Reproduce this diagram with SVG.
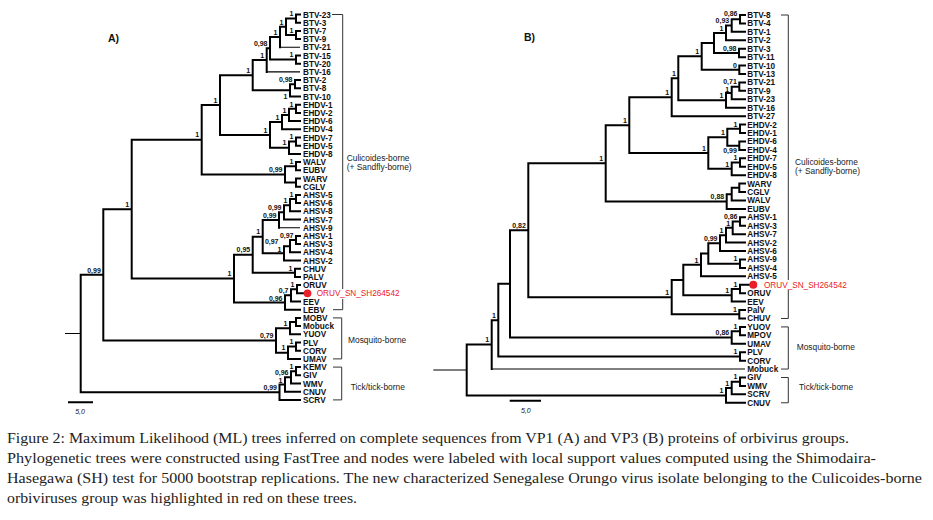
<svg xmlns="http://www.w3.org/2000/svg" width="933" height="520" viewBox="0 0 933 520">
<style>
.br{fill:none;stroke:#000;stroke-width:2;stroke-linecap:square}
.thin{fill:none;stroke:#000;stroke-width:1.1}
.bk{fill:none;stroke:#333;stroke-width:1}
.lf{font-family:"Liberation Sans",Arial,sans-serif;font-weight:bold;font-size:8.2px;fill:#111}
.sp{font-family:"Liberation Sans",Arial,sans-serif;font-weight:bold;font-size:7px;fill:#111;text-anchor:end}
.grp{font-family:"Liberation Sans",Arial,sans-serif;font-size:8.4px;fill:#222}
.red{font-family:"Liberation Sans",Arial,sans-serif;font-size:8.2px;fill:#e8202a}
.ttl{font-family:"Liberation Sans",Arial,sans-serif;font-weight:bold;font-size:10.5px;fill:#111}
.sc{font-family:"Liberation Sans",Arial,sans-serif;font-style:italic;font-size:7px;fill:#111;text-anchor:middle}
.cap{font-family:"Liberation Serif","Times New Roman",serif;font-size:14.5px;fill:#222}
</style>
<rect width="933" height="520" fill="#fff"/>

<g id="connectors">
<path class="br" d="M296,14.5V22.7M296,14.5H300M296,22.7H300 M296,30.9V39.1M296,30.9H300M296,39.1H300 M286,18.6V35M286,18.6H296M286,35H296 M280,26.8V47.3M280,26.8H286 M296,55.5V63.7M296,55.5H300M296,63.7H300 M270,37.05V59.6M270,37.05H280M270,59.6H296 M266.7,48.3V71.9M266.7,48.3H270 M295,80.1V88.3M295,80.1H300M295,88.3H300 M290,84.2V96.5M290,84.2H295M290,96.5H300 M252.7,60.1V90.35M252.7,60.1H266.7M252.7,90.35H290
M296,104.7V112.9M296,104.7H300M296,112.9H300 M289,108.8V121.1M289,108.8H296M289,121.1H300 M282,114.95V129.3M282,114.95H289M282,129.3H300 M296,137.5V145.7M296,137.5H300M296,145.7H300 M289,141.6V153.9M289,141.6H296M289,153.9H300 M270,122.1V147.75M270,122.1H282M270,147.75H289 M220,75.2V134.9M220,75.2H252.7M220,134.9H270
M296,162.1V170.3M296,162.1H300M296,170.3H300 M296,178.5V186.7M296,178.5H300M296,186.7H300 M285,166.2V182.6M285,166.2H296M285,182.6H296 M201.7,105.05V174.4M201.7,105.05H220M201.7,174.4H285
M296,194.9V203.1M296,194.9H300M296,203.1H300 M290,199V211.3M290,199H296M290,211.3H300 M284,205.15V219.5M284,205.15H290M284,219.5H300 M279,212.3V227.7M279,212.3H284 M296,235.9V244.1M296,235.9H300M296,244.1H300 M290,240V252.3M290,240H296M290,252.3H300 M284,246.15V260.5M284,246.15H290M284,260.5H300 M262.7,220V253.3M262.7,220H279M262.7,253.3H284 M295,268.7V276.9M295,268.7H300M295,276.9H300 M252.7,236.65V272.8M252.7,236.65H262.7M252.7,272.8H295
M297,285.1V293.3M297,285.1H300M297,293.3H303 M291,289.2V301.5M291,289.2H297M291,301.5H300 M285,295.35V309.7M285,295.35H291M285,309.7H300 M234,254.7V302.5M234,254.7H252.7M234,302.5H285 M131.7,139.7V278.6M131.7,139.7H201.7M131.7,278.6H234
M296,317.9V326.1M296,317.9H300M296,326.1H300 M290,322V334.3M290,322H296M290,334.3H300 M296,342.5V350.7M296,342.5H300M296,350.7H300 M288,346.6V358.9M288,346.6H296M288,358.9H300 M276,328.15V352.75M276,328.15H290M276,352.75H288 M103.3,209.15V340.45M103.3,209.15H131.7M103.3,340.45H276
M296,367.1V375.3M296,367.1H300M296,375.3H300 M291,371.2V383.5M291,371.2H296M291,383.5H300 M285,377.35V391.7M285,377.35H291M285,391.7H300 M279.5,384.5V399.9M279.5,384.5H285M279.5,399.9H300 M80.7,274.8V392.2M80.7,274.8H103.3M80.7,392.2H279.5 M69,402.3H92"/>
<path class="thin" d="M65,333.5H80.7 M280,47.3H300 M266.7,71.9H300 M279,227.7H300"/>

<path class="br" d="M740,15V23.43M740,15H745M740,23.43H745 M731.7,19.2V31.86M731.7,19.2H740M731.7,31.86H745 M726,25.53V40.29M726,25.53H731.7M726,40.29H745 M739,48.72V57.15M739,48.72H745M739,57.15H745 M714,32.91V52.94M714,32.91H726M714,52.94H739 M739.3,65.58V74.01M739.3,65.58H745M739.3,74.01H745 M701.7,42.93V69.8M701.7,42.93H714M701.7,69.8H739.3
M739.3,82.44V90.87M739.3,82.44H745M739.3,90.87H745 M731.7,86.66V99.3M731.7,86.66H739.3M731.7,99.3H745 M726,92.98V107.73M726,92.98H731.7M726,107.73H745 M678.3,56.36V100.36M678.3,56.36H701.7M678.3,100.36H726 M671.7,78.36V116.16M671.7,78.36H678.3M671.7,116.16H745
M740,124.59V133.02M740,124.59H745M740,133.02H745 M739.3,141.45V149.88M739.3,141.45H745M739.3,149.88H745 M727.3,128.8V145.67M727.3,128.8H740M727.3,145.67H739.3 M740,158.31V166.74M740,158.31H745M740,166.74H745 M731.7,162.53V175.17M731.7,162.53H740M731.7,175.17H745 M708.3,137.24V168.85M708.3,137.24H727.3M708.3,168.85H731.7 M629.3,97.26V153.04M629.3,97.26H671.7M629.3,153.04H708.3
M739.3,183.6V192.03M739.3,183.6H745M739.3,192.03H745 M731.7,187.8V200.46M731.7,187.8H739.3M731.7,200.46H745 M726.7,194.13V208.89M726.7,194.13H731.7M726.7,208.89H745 M605.7,125.15V201.51M605.7,125.15H629.3M605.7,201.51H726.7
M740,217.32V225.75M740,217.32H745M740,225.75H745 M732.7,221.54V234.18M732.7,221.54H740M732.7,234.18H745 M726,227.86V242.61M726,227.86H732.7M726,242.61H745 M720,235.24V251.04M720,235.24H726M720,251.04H745 M740,259.47V267.9M740,259.47H745M740,267.9H745 M708.3,243.14V263.69M708.3,243.14H720M708.3,263.69H740 M701,253.41V276.33M701,253.41H708.3M701,276.33H745
M740,284.76V293.19M740,284.76H749M740,293.19H745 M731.7,288.98V301.62M731.7,288.98H740M731.7,301.62H745 M683.3,264.87V295.3M683.3,264.87H701M683.3,295.3H731.7 M739.3,310.05V318.48M739.3,310.05H745M739.3,318.48H745 M671.7,280.09V314.27M671.7,280.09H683.3M671.7,314.27H739.3 M528.3,163.33V297.18M528.3,163.33H605.7M528.3,297.18H671.7
M740,326.91V335.34M740,326.91H745M740,335.34H745 M731.7,331.13V343.77M731.7,331.13H740M731.7,343.77H745 M510,230.26V337.45M510,230.26H528.3M510,337.45H731.7 M740,352.2V360.63M740,352.2H745M740,360.63H745 M498.3,283.86V356.42M498.3,283.86H510M498.3,356.42H740 M491.7,320.14V369.06M491.7,320.14H498.3
M740,377.49V385.92M740,377.49H745M740,385.92H745 M731.7,381.71V394.35M731.7,381.71H740M731.7,394.35H745 M726,388.03V402.78M726,388.03H731.7M726,402.78H745 M466.7,344.6V395.41M466.7,344.6H491.7M466.7,395.41H726 M510.7,400.7H540"/>
<path class="thin" d="M433.3,370H466.7 M491.7,369.06H745"/>

<path class="bk" d="M332,14.5H342.7V289 M342.7,299V309.7H333 M333,317.9H341.7V358.9H333 M333,367.1H341.7V399.9H333"/>
<path class="bk" d="M781,15H788.3V280 M788.3,290V318.48H781 M781,326.91H788.3V369.06H781 M781,377.49H788.3V402.78H781"/>
</g>

<g id="titles">
<text class="ttl" x="108" y="42">A)</text>
<text class="ttl" x="524" y="41">B)</text>
<text class="sc" x="80" y="414">5,0</text>
<text class="sc" x="525.8" y="413">5,0</text>
</g>

<g id="treeA-leaves">
<g id="a-BTV-23"><text class="lf" x="303" y="17.5">BTV-23</text></g>
<g id="a-BTV-3"><text class="lf" x="303" y="25.7">BTV-3</text></g>
<g id="a-BTV-7"><text class="lf" x="303" y="33.9">BTV-7</text></g>
<g id="a-BTV-9"><text class="lf" x="303" y="42.1">BTV-9</text></g>
<g id="a-BTV-21"><text class="lf" x="303" y="50.3">BTV-21</text></g>
<g id="a-BTV-15"><text class="lf" x="303" y="58.5">BTV-15</text></g>
<g id="a-BTV-20"><text class="lf" x="303" y="66.7">BTV-20</text></g>
<g id="a-BTV-16"><text class="lf" x="303" y="74.9">BTV-16</text></g>
<g id="a-BTV-2"><text class="lf" x="303" y="83.1">BTV-2</text></g>
<g id="a-BTV-8"><text class="lf" x="303" y="91.3">BTV-8</text></g>
<g id="a-BTV-10"><text class="lf" x="303" y="99.5">BTV-10</text></g>
<g id="a-EHDV-1"><text class="lf" x="303" y="107.7">EHDV-1</text></g>
<g id="a-EHDV-2"><text class="lf" x="303" y="115.9">EHDV-2</text></g>
<g id="a-EHDV-6"><text class="lf" x="303" y="124.1">EHDV-6</text></g>
<g id="a-EHDV-4"><text class="lf" x="303" y="132.3">EHDV-4</text></g>
<g id="a-EHDV-7"><text class="lf" x="303" y="140.5">EHDV-7</text></g>
<g id="a-EHDV-5"><text class="lf" x="303" y="148.7">EHDV-5</text></g>
<g id="a-EHDV-8"><text class="lf" x="303" y="156.9">EHDV-8</text></g>
<g id="a-WALV"><text class="lf" x="303" y="165.1">WALV</text></g>
<g id="a-EUBV"><text class="lf" x="303" y="173.3">EUBV</text></g>
<g id="a-WARV"><text class="lf" x="303" y="181.5">WARV</text></g>
<g id="a-CGLV"><text class="lf" x="303" y="189.7">CGLV</text></g>
<g id="a-AHSV-5"><text class="lf" x="303" y="197.9">AHSV-5</text></g>
<g id="a-AHSV-6"><text class="lf" x="303" y="206.1">AHSV-6</text></g>
<g id="a-AHSV-8"><text class="lf" x="303" y="214.3">AHSV-8</text></g>
<g id="a-AHSV-7"><text class="lf" x="303" y="222.5">AHSV-7</text></g>
<g id="a-AHSV-9"><text class="lf" x="303" y="230.7">AHSV-9</text></g>
<g id="a-AHSV-1"><text class="lf" x="303" y="238.9">AHSV-1</text></g>
<g id="a-AHSV-3"><text class="lf" x="303" y="247.1">AHSV-3</text></g>
<g id="a-AHSV-4"><text class="lf" x="303" y="255.3">AHSV-4</text></g>
<g id="a-AHSV-2"><text class="lf" x="303" y="263.5">AHSV-2</text></g>
<g id="a-CHUV"><text class="lf" x="303" y="271.7">CHUV</text></g>
<g id="a-PALV"><text class="lf" x="303" y="279.9">PALV</text></g>
<g id="a-ORUV"><text class="lf" x="303" y="288.1">ORUV</text></g>
<g id="a-ORUV_SN"><circle cx="307.5" cy="293.3" r="3.9" fill="#e8202a"/><text class="red" x="316.7" y="296.3">ORUV_SN_SH264542</text></g>
<g id="a-EEV"><text class="lf" x="303" y="304.5">EEV</text></g>
<g id="a-LEBV"><text class="lf" x="303" y="312.7">LEBV</text></g>
<g id="a-MOBV"><text class="lf" x="303" y="320.9">MOBV</text></g>
<g id="a-Mobuck"><text class="lf" x="303" y="329.1">Mobuck</text></g>
<g id="a-YUOV"><text class="lf" x="303" y="337.3">YUOV</text></g>
<g id="a-PLV"><text class="lf" x="303" y="345.5">PLV</text></g>
<g id="a-CORV"><text class="lf" x="303" y="353.7">CORV</text></g>
<g id="a-UMAV"><text class="lf" x="303" y="361.9">UMAV</text></g>
<g id="a-KEMV"><text class="lf" x="303" y="370.1">KEMV</text></g>
<g id="a-GIV"><text class="lf" x="303" y="378.3">GIV</text></g>
<g id="a-WMV"><text class="lf" x="303" y="386.5">WMV</text></g>
<g id="a-CNUV"><text class="lf" x="303" y="394.7">CNUV</text></g>
<g id="a-SCRV"><text class="lf" x="303" y="402.9">SCRV</text></g>
</g>

<g id="treeA-support">
<text class="sp" x="293.5" y="16.3">1</text>
<text class="sp" x="293.5" y="32.7">1</text>
<text class="sp" x="283.5" y="24.5">1</text>
<text class="sp" x="277.5" y="34.75">1</text>
<text class="sp" x="293.5" y="57.3">1</text>
<text class="sp" x="267.5" y="46">0,98</text>
<text class="sp" x="264.2" y="57.8">1</text>
<text class="sp" x="292.5" y="81.9">0,98</text>
<text class="sp" x="287.5" y="99.3">1</text>
<text class="sp" x="250.2" y="72.9">1</text>
<text class="sp" x="293.5" y="106.5">1</text>
<text class="sp" x="286.5" y="112.65">1</text>
<text class="sp" x="279.5" y="119.8">1</text>
<text class="sp" x="293.5" y="139.3">1</text>
<text class="sp" x="286.5" y="145.45">1</text>
<text class="sp" x="267.5" y="132.6">1</text>
<text class="sp" x="217.5" y="102.75">1</text>
<text class="sp" x="293.5" y="163.9">1</text>
<text class="sp" x="282.5" y="172.1">0,99</text>
<text class="sp" x="199.2" y="137.4">1</text>
<text class="sp" x="293.5" y="196.7">1</text>
<text class="sp" x="287.5" y="202.85">1</text>
<text class="sp" x="281.5" y="210">0,99</text>
<text class="sp" x="276.5" y="217.7">0,99</text>
<text class="sp" x="293.5" y="237.7">0,97</text>
<text class="sp" x="278.5" y="243.85">0,97</text>
<text class="sp" x="281.5" y="251.5">1</text>
<text class="sp" x="260.2" y="234.35">1</text>
<text class="sp" x="292.5" y="270.5">1</text>
<text class="sp" x="250.2" y="252.4">0,95</text>
<text class="sp" x="294.5" y="286.9">1</text>
<text class="sp" x="288.5" y="292.8">0,7</text>
<text class="sp" x="282.5" y="300.9">0,96</text>
<text class="sp" x="231.5" y="276.3">1</text>
<text class="sp" x="129.2" y="206.85">1</text>
<text class="sp" x="287.5" y="325.85">1</text>
<text class="sp" x="293.5" y="344.3">1</text>
<text class="sp" x="285.5" y="350.45">1</text>
<text class="sp" x="273.5" y="338.15">0,79</text>
<text class="sp" x="100.8" y="272.5">0,99</text>
<text class="sp" x="293.5" y="368.9">1</text>
<text class="sp" x="288.5" y="374.8">0,96</text>
<text class="sp" x="282.5" y="382.8">1</text>
<text class="sp" x="277" y="389.9">0,99</text>
</g>

<g id="treeA-groups">
<text class="grp" x="346.7" y="160.6">Culicoides-borne</text>
<text class="grp" x="346.7" y="169.8">(+ Sandfly-borne)</text>
<text class="grp" x="348" y="343">Mosquito-borne</text>
<text class="grp" x="350.7" y="389.7">Tick/tick-borne</text>
</g>

<g id="treeB-leaves">
<g id="b-BTV-8"><text class="lf" x="747.3" y="18">BTV-8</text></g>
<g id="b-BTV-4"><text class="lf" x="747.3" y="26.43">BTV-4</text></g>
<g id="b-BTV-1"><text class="lf" x="747.3" y="34.86">BTV-1</text></g>
<g id="b-BTV-2"><text class="lf" x="747.3" y="43.29">BTV-2</text></g>
<g id="b-BTV-3"><text class="lf" x="747.3" y="51.72">BTV-3</text></g>
<g id="b-BTV-11"><text class="lf" x="747.3" y="60.15">BTV-11</text></g>
<g id="b-BTV-10"><text class="lf" x="747.3" y="68.58">BTV-10</text></g>
<g id="b-BTV-13"><text class="lf" x="747.3" y="77.01">BTV-13</text></g>
<g id="b-BTV-21"><text class="lf" x="747.3" y="85.44">BTV-21</text></g>
<g id="b-BTV-9"><text class="lf" x="747.3" y="93.87">BTV-9</text></g>
<g id="b-BTV-23"><text class="lf" x="747.3" y="102.3">BTV-23</text></g>
<g id="b-BTV-16"><text class="lf" x="747.3" y="110.73">BTV-16</text></g>
<g id="b-BTV-27"><text class="lf" x="747.3" y="119.16">BTV-27</text></g>
<g id="b-EHDV-2"><text class="lf" x="747.3" y="127.59">EHDV-2</text></g>
<g id="b-EHDV-1"><text class="lf" x="747.3" y="136.02">EHDV-1</text></g>
<g id="b-EHDV-6"><text class="lf" x="747.3" y="144.45">EHDV-6</text></g>
<g id="b-EHDV-4"><text class="lf" x="747.3" y="152.88">EHDV-4</text></g>
<g id="b-EHDV-7"><text class="lf" x="747.3" y="161.31">EHDV-7</text></g>
<g id="b-EHDV-5"><text class="lf" x="747.3" y="169.74">EHDV-5</text></g>
<g id="b-EHDV-8"><text class="lf" x="747.3" y="178.17">EHDV-8</text></g>
<g id="b-WARV"><text class="lf" x="747.3" y="186.6">WARV</text></g>
<g id="b-CGLV"><text class="lf" x="747.3" y="195.03">CGLV</text></g>
<g id="b-WALV"><text class="lf" x="747.3" y="203.46">WALV</text></g>
<g id="b-EUBV"><text class="lf" x="747.3" y="211.89">EUBV</text></g>
<g id="b-AHSV-1"><text class="lf" x="747.3" y="220.32">AHSV-1</text></g>
<g id="b-AHSV-3"><text class="lf" x="747.3" y="228.75">AHSV-3</text></g>
<g id="b-AHSV-7"><text class="lf" x="747.3" y="237.18">AHSV-7</text></g>
<g id="b-AHSV-2"><text class="lf" x="747.3" y="245.61">AHSV-2</text></g>
<g id="b-AHSV-6"><text class="lf" x="747.3" y="254.04">AHSV-6</text></g>
<g id="b-AHSV-9"><text class="lf" x="747.3" y="262.47">AHSV-9</text></g>
<g id="b-AHSV-4"><text class="lf" x="747.3" y="270.9">AHSV-4</text></g>
<g id="b-AHSV-5"><text class="lf" x="747.3" y="279.33">AHSV-5</text></g>
<g id="b-ORUV_SN"><circle cx="753.3" cy="284.76" r="4" fill="#e8202a"/><text class="red" x="764" y="287.8">ORUV_SN_SH264542</text></g>
<g id="b-ORUV"><text class="lf" x="747.3" y="296.19">ORUV</text></g>
<g id="b-EEV"><text class="lf" x="747.3" y="304.62">EEV</text></g>
<g id="b-PalV"><text class="lf" x="747.3" y="313.05">PalV</text></g>
<g id="b-CHUV"><text class="lf" x="747.3" y="321.48">CHUV</text></g>
<g id="b-YUOV"><text class="lf" x="747.3" y="329.91">YUOV</text></g>
<g id="b-MPOV"><text class="lf" x="747.3" y="338.34">MPOV</text></g>
<g id="b-UMAV"><text class="lf" x="747.3" y="346.77">UMAV</text></g>
<g id="b-PLV"><text class="lf" x="747.3" y="355.2">PLV</text></g>
<g id="b-CORV"><text class="lf" x="747.3" y="363.63">CORV</text></g>
<g id="b-Mobuck"><text class="lf" x="747.3" y="372.06">Mobuck</text></g>
<g id="b-GIV"><text class="lf" x="747.3" y="380.49">GIV</text></g>
<g id="b-WMV"><text class="lf" x="747.3" y="388.92">WMV</text></g>
<g id="b-SCRV"><text class="lf" x="747.3" y="397.35">SCRV</text></g>
<g id="b-CNUV"><text class="lf" x="747.3" y="405.78">CNUV</text></g>
</g>

<g id="treeB-support">
<text class="sp" x="737.5" y="16.2">0,86</text>
<text class="sp" x="729.2" y="23.25">0,93</text>
<text class="sp" x="723.5" y="31.2">1</text>
<text class="sp" x="736.5" y="50.6">0,98</text>
<text class="sp" x="736.8" y="67.5">0</text>
<text class="sp" x="699.2" y="54.1">1</text>
<text class="sp" x="736.8" y="83.9">0,71</text>
<text class="sp" x="729.2" y="91.5">1</text>
<text class="sp" x="723.5" y="98.4">1</text>
<text class="sp" x="675.8" y="76.05">1</text>
<text class="sp" x="669.2" y="94.95">1</text>
<text class="sp" x="737.5" y="126.5">1</text>
<text class="sp" x="736.8" y="153.4">0,99</text>
<text class="sp" x="724.8" y="134.95">1</text>
<text class="sp" x="737.5" y="160.2">1</text>
<text class="sp" x="729.2" y="166.55">1</text>
<text class="sp" x="705.8" y="150.75">1</text>
<text class="sp" x="626.8" y="122.85">1</text>
<text class="sp" x="724.2" y="199.2">0,88</text>
<text class="sp" x="603.2" y="161.05">1</text>
<text class="sp" x="737.5" y="218.6">0,86</text>
<text class="sp" x="730.2" y="226.3">1</text>
<text class="sp" x="723.5" y="233.2">1</text>
<text class="sp" x="717.5" y="240.85">0,99</text>
<text class="sp" x="737.5" y="261.4">1</text>
<text class="sp" x="698.5" y="262.55">1</text>
<text class="sp" x="737.5" y="286.7">1</text>
<text class="sp" x="729.2" y="293">1</text>
<text class="sp" x="736.8" y="312">1</text>
<text class="sp" x="669.2" y="294.9">1</text>
<text class="sp" x="525.8" y="227.95">0,82</text>
<text class="sp" x="737.5" y="328.8">1</text>
<text class="sp" x="729.2" y="335.15">0,86</text>
<text class="sp" x="737.5" y="354.1">1</text>
<text class="sp" x="495.8" y="317.85">1</text>
<text class="sp" x="489.2" y="342.3">1</text>
<text class="sp" x="737.5" y="379.4">1</text>
<text class="sp" x="729.2" y="385.75">1</text>
<text class="sp" x="723.5" y="393.1">1</text>
</g>

<g id="treeB-groups">
<text class="grp" x="795" y="165">Culicoides-borne</text>
<text class="grp" x="795" y="174.2">(+ Sandfly-borne)</text>
<text class="grp" x="796.7" y="349.7">Mosquito-borne</text>
<text class="grp" x="799" y="389.7">Tick/tick-borne</text>
</g>

<g id="caption">
<text class="cap" x="7" y="443" textLength="842" lengthAdjust="spacingAndGlyphs">Figure 2: Maximum Likelihood (ML) trees inferred on complete sequences from VP1 (A) and VP3 (B) proteins of orbivirus groups.</text>
<text class="cap" x="7" y="463" textLength="869" lengthAdjust="spacingAndGlyphs">Phylogenetic trees were constructed using FastTree and nodes were labeled with local support values computed using the Shimodaira-</text>
<text class="cap" x="7" y="483" textLength="915" lengthAdjust="spacingAndGlyphs">Hasegawa (SH) test for 5000 bootstrap replications. The new characterized Senegalese Orungo virus isolate belonging to the Culicoides-borne</text>
<text class="cap" x="7" y="503" textLength="350" lengthAdjust="spacingAndGlyphs">orbiviruses group was highlighted in red on these trees.</text>
</g>
</svg>
